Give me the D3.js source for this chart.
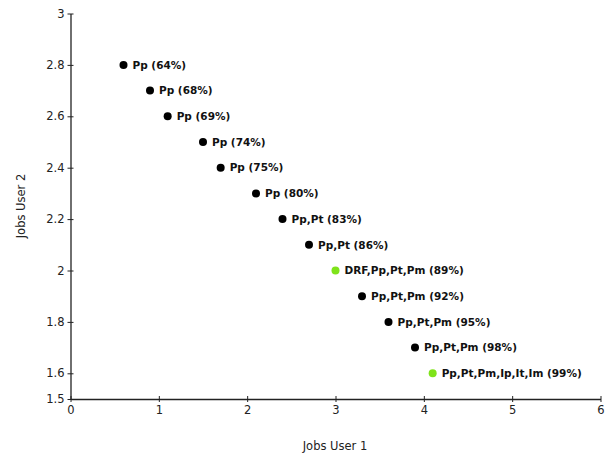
<!DOCTYPE html>
<html><head><meta charset="utf-8">
<script src="https://cdn.jsdelivr.net/npm/d3@7"></script>
<style>body{margin:0;background:#fff}svg{display:block}</style>
</head><body>
<svg id="c" width="616" height="455"></svg>
<script>
const jobsUser1 = [0.6, 0.9, 1.1, 1.5, 1.7, 2.1, 2.4, 2.7, 3.0, 3.3, 3.6, 3.9, 4.1];
const jobsUser2 = [2.8, 2.7, 2.6, 2.5, 2.4, 2.3, 2.2, 2.1, 2.0, 1.9, 1.8, 1.7, 1.6];
const pointLabels = ["Pp (64%)","Pp (68%)","Pp (69%)","Pp (74%)","Pp (75%)","Pp (80%)","Pp,Pt (83%)","Pp,Pt (86%)","DRF,Pp,Pt,Pm (89%)","Pp,Pt,Pm (92%)","Pp,Pt,Pm (95%)","Pp,Pt,Pm (98%)","Pp,Pt,Pm,Ip,It,Im (99%)"];
const highlighted = [false,false,false,false,false,false,false,false,true,false,false,false,true];
const xTicks = [0,1,2,3,4,5,6];
const yTicks = [1.5,1.6,1.8,2.0,2.2,2.4,2.6,2.8,3.0];

const svg = d3.select("#c");
const font = "'DejaVu Sans', Verdana, sans-serif";
const x = d3.scaleLinear().domain([0,6]).range([70.5,600.5]);
const y = d3.scaleLinear().domain([1.5,3]).range([399,13.5]);

const fmt = d => d3.format("")(+d.toFixed(1));

const xa = svg.append("g").attr("transform","translate(0,399)")
  .call(d3.axisBottom(x).tickValues(xTicks).tickSize(3).tickSizeOuter(0).tickFormat(d=>d));
xa.select(".domain").attr("stroke","#222").attr("stroke-width",1.3);
xa.selectAll(".tick line").attr("stroke","#222").attr("y1",-3).attr("y2",3);
xa.selectAll(".tick text").attr("font-family",font).attr("font-size",11.5).attr("fill","#222").attr("dy","0.95em").attr("y",4);

const ya = svg.append("g").attr("transform","translate(70.5,0)")
  .call(d3.axisLeft(y).tickValues(yTicks).tickSize(3).tickSizeOuter(0).tickFormat(fmt));
ya.select(".domain").attr("stroke","#222").attr("stroke-width",1.3);
ya.selectAll(".tick line").attr("stroke","#222").attr("x1",-3).attr("x2",3);
ya.selectAll(".tick text").attr("font-family",font).attr("font-size",11.5).attr("fill","#222").attr("x",-6);

const data = jobsUser1.map((v,i)=>({x:v,y:jobsUser2[i],label:pointLabels[i],hl:highlighted[i]}));
const g = svg.append("g");
g.selectAll("circle").data(data).join("circle")
  .attr("cx",d=>x(d.x)).attr("cy",d=>y(d.y)).attr("r",4)
  .attr("fill",d=>d.hl?"#7fe31a":"#000");
g.selectAll("text").data(data).join("text")
  .attr("x",d=>x(d.x)+9).attr("y",d=>y(d.y)).attr("dy","0.36em")
  .attr("font-family",font).attr("font-size",10.5).attr("font-weight","bold").attr("fill","#111")
  .text(d=>d.label);

svg.append("text").attr("x",335).attr("y",450).attr("text-anchor","middle")
  .attr("font-family",font).attr("font-size",11.5).attr("fill","#222").text("Jobs User 1");
svg.append("text").attr("transform","translate(25,206) rotate(-90)").attr("text-anchor","middle")
  .attr("font-family",font).attr("font-size",11.5).attr("fill","#222").text("Jobs User 2");
</script>
</body></html>
